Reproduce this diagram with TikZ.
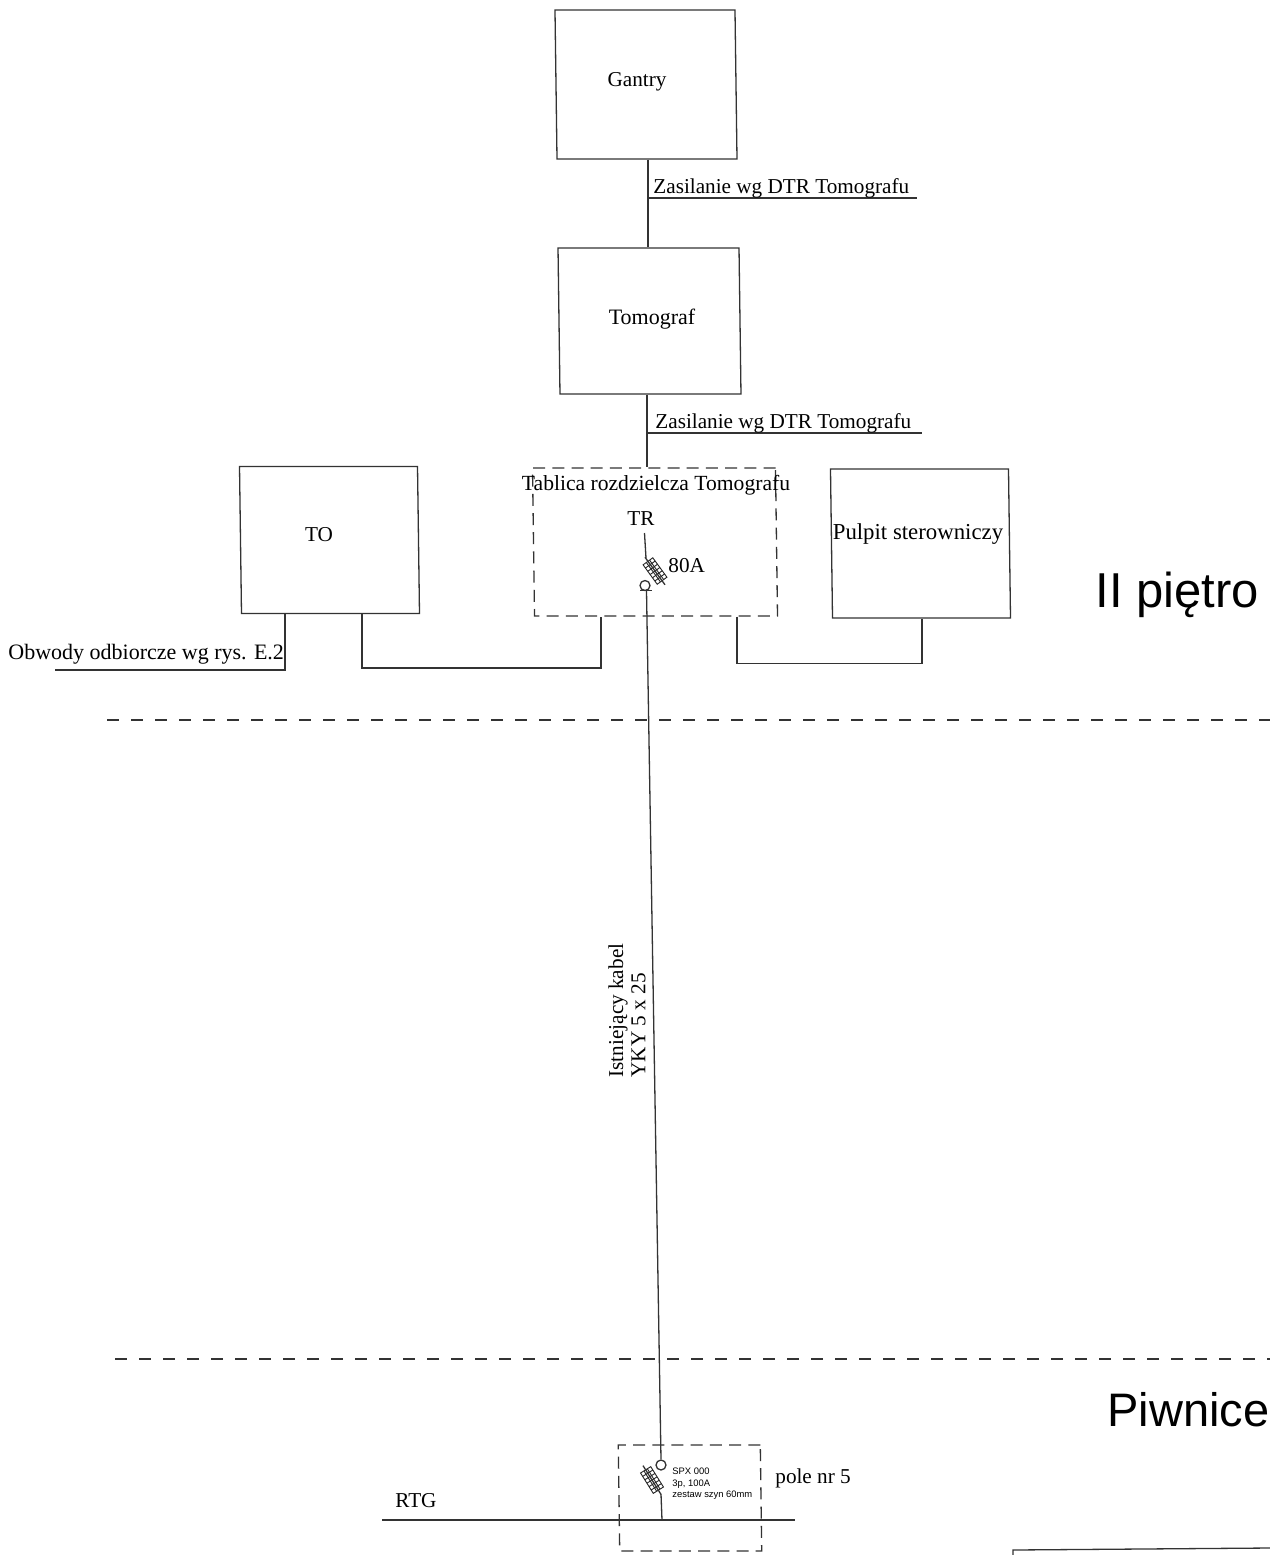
\documentclass[tikz,border=0pt]{standalone}
\usepackage{fontspec}
\setmainfont{Liberation Serif}
\newfontfamily\lsans{Liberation Sans}
\tikzset{
  x=0.5pt,y=-0.5pt,
  ln/.style={draw=black!80,line width=0.65pt},
  boxnode/.style={ln,rectangle,inner sep=0pt,xslant=-0.0135,transform shape},
  dashbox/.style={boxnode,dash pattern=on 6pt off 3.6pt},
  lab/.style={inner sep=0pt,font=\fontsize{10.6}{12}\selectfont},
  floor/.style={inner sep=0pt,font=\lsans\fontsize{23.5}{28}\selectfont},
  level/.style={draw=black!80,line width=0.6pt,dash pattern=on 6pt off 6pt},
  tiny/.style={inner sep=0pt,align=left,font=\lsans\fontsize{4.7}{5.7}\selectfont},
  fusebody/.style={draw=black!85,line width=0.45pt},
}
\newcommand{\fusepic}[3]{%
  \begin{scope}[shift={(#1)},rotate=#2]
    \draw[fusebody] (-6,-12) rectangle (6,12);
    \foreach \q in {-8,-4,0,4,8}{\draw[fusebody] (-6,\q) -- (6,\q);}
    \draw[fusebody] (-2,-12) -- (-2,12) (2,-12) -- (2,12);
    \draw[ln] (0,-#3) -- (0,#3);
  \end{scope}}
\begin{document}
\begin{tikzpicture}
\useasboundingbox (0,0) rectangle (1270,1555);
\fill[white] (0,0) rectangle (1270,1555);
% centres of the boxes
\coordinate (cg) at (646,84.5);
\coordinate (ct) at (649.5,321);
\coordinate (cr) at (655,542);
\coordinate (co) at (329.5,540);
\coordinate (cp) at (920.5,543.5);
\coordinate (cs) at (690,1498);
% boxes
\node[boxnode,minimum width=90pt,minimum height=74.5pt] (gantry) at (cg) {};
\node[boxnode,minimum width=90.5pt,minimum height=73pt] (tomograf) at (ct) {};
\node[dashbox,minimum width=121.5pt,minimum height=74pt] (tr) at (cr) {};
\node[boxnode,minimum width=89pt,minimum height=73.5pt] (to) at (co) {};
\node[boxnode,minimum width=89pt,minimum height=74.5pt] (pulpit) at (cp) {};
\node[dashbox,minimum width=71pt,minimum height=53pt] (pole) at (cs) {};
% texts in and near boxes
\node[lab] (gantrytext) at (637,82) {Gantry};
\node[lab,font=\fontsize{11}{12}\selectfont] (tomotext) at (652,319) {Tomograf};
\node[lab] (totext) at (319,535) {TO};
\node[lab,font=\fontsize{11.4}{12}\selectfont] (pulpittext) at (918,534) {Pulpit sterowniczy};
\node[lab,font=\fontsize{10.8}{12}\selectfont] (trtitle) at (656,485) {Tablica rozdzielcza Tomografu};
\node[lab] (trtext) at (641,519) {TR};
\node[lab,anchor=west] (a80) at (668,566) {80A};
% tap lines
\coordinate (j1) at (648,198);
\coordinate (e1) at (917,198);
\coordinate (j2) at (647,433);
\coordinate (e2) at (922,433);
\draw[ln] (gantry.south -| j1) -- (tomograf.north -| j1);
\draw[ln] (j1) -- (e1);
\draw[ln] (tomograf.south -| j2) -- (tr.north -| j2);
\draw[ln] (j2) -- (e2);
\node[lab,anchor=south west] (z1) at (653,198) {Zasilanie wg DTR Tomografu};
\node[lab,anchor=south west] (z2) at (655,433) {Zasilanie wg DTR Tomografu};
% bottom connections
\coordinate (o1) at (55,670);
\coordinate (o2) at (285,670);
\draw[ln] (o1) -- (o2) -- (o2 |- to.south);
\node[lab,anchor=west,font=\fontsize{11}{12}\selectfont] (obw) at (8,654) {Obwody odbiorcze wg rys. E.2};
\coordinate (t1) at (362,668);
\coordinate (t2) at (601,668);
\draw[ln] (t1 |- to.south) -- (t1) -- (t2) -- (t2 |- tr.south);
\coordinate (p1) at (737,663.5);
\coordinate (p2) at (922,663.5);
\draw[ln] (p1 |- tr.south) -- (p1) -- (p2) -- (p2 |- pulpit.south);
% TR fuse
\coordinate (f1a) at (644.5,533);
\coordinate (f1b) at (646,558);
\coordinate (f1c) at (655,571);
\draw[ln] (f1a) -- (f1b);
\fusepic{f1c}{36}{17}
\node[draw=black!80,line width=0.65pt,circle,minimum size=5pt,inner sep=0pt] (k1) at (645,585.5) {};
\coordinate (b1a) at (640,590.5);
\coordinate (b1b) at (652,590.5);
\draw[ln] (b1a) -- (b1b);
% cable
\node[draw=black!80,line width=0.65pt,circle,minimum size=5pt,inner sep=0pt] (k2) at (661,1465) {};
\coordinate (c1) at (646.5,590.5);
\draw[ln] (c1) -- (k2.north);
\node[inner sep=0pt,rotate=90,align=left,font=\fontsize{10.6}{11.2}\selectfont] (kabel) at (627,1010.5) {Istniejący kabel\\YKY 5 x 25};
% lower fuse
\coordinate (f2c) at (652,1480);
\fusepic{f2c}{32}{17}
\coordinate (rtga) at (382,1520);
\coordinate (rtgb) at (795,1520);
\coordinate (f2d) at (661,1494);
\coordinate (f2e) at (662,1520);
\draw[ln] (f2d) -- (f2e);
\draw[ln] (rtga) -- (rtgb);
\node[tiny,anchor=west] (spx) at (672,1484) {SPX 000\\3p, 100A\\zestaw szyn 60mm};
\node[lab,anchor=west] (pole5) at (775,1478) {pole nr 5};
\node[lab,anchor=west] (rtg) at (395,1501) {RTG};
% levels
\coordinate (l1a) at (107,720);
\coordinate (l1b) at (1270,720);
\coordinate (l2a) at (115,1359);
\coordinate (l2b) at (1270,1359);
\draw[level] (l1a) -- (l1b);
\draw[level] (l2a) -- (l2b);
\node[floor,anchor=west,font=\lsans\fontsize{24.5}{28}\selectfont] (fl1) at (1095,595) {II piętro};
\node[floor,anchor=west] (fl2) at (1107,1410) {Piwnice};
% frame at the bottom right
\coordinate (q1) at (1013,1555);
\coordinate (q2) at (1013,1550);
\coordinate (q3) at (1270,1548);
\draw[ln] (q1) -- (q2) -- (q3);
\end{tikzpicture}
\end{document}
